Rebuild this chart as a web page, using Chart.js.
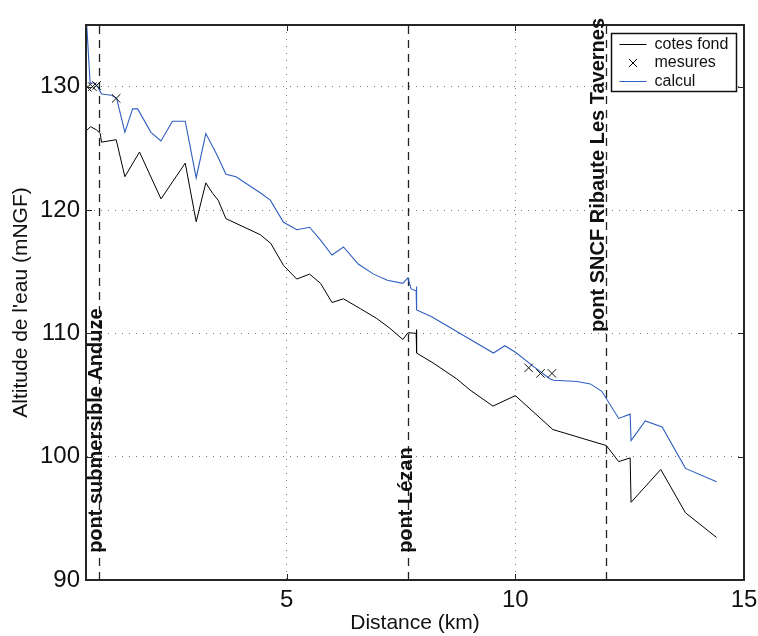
<!doctype html>
<html lang="fr">
<head>
<meta charset="utf-8">
<title>Profil en long</title>
<script src="https://cdn.jsdelivr.net/npm/chart.js"></script>
<style>
  html, body { margin: 0; padding: 0; background: #fff; }
  canvas { display: block; }
</style>
</head>
<body>
<canvas id="profil" width="758" height="636"></canvas>
<script>
// cotes fond (black line)
const fondX = [0.61, 0.61, 0.71, 0.84, 0.92, 0.95, 1.27, 1.46, 1.78, 2.25, 2.78, 3.02, 3.23, 3.38, 3.50, 3.67, 4.42, 4.65, 4.93, 5.22, 5.50, 5.74, 5.99, 6.24, 6.61, 6.97, 7.26, 7.54, 7.65, 7.83, 7.84, 7.84, 8.20, 8.72, 9.01, 9.51, 10.0, 10.82, 11.99, 12.26, 12.51, 12.53, 13.18, 13.72, 14.40];
const fondY = [130.0, 126.4, 126.75, 126.5, 126.2, 125.5, 125.7, 122.7, 124.7, 120.9, 123.8, 119.05, 122.2, 121.35, 120.8, 119.3, 118.0, 117.3, 115.5, 114.4, 114.8, 114.05, 112.5, 112.8, 112.0, 111.2, 110.4, 109.5, 110.05, 110.0, 110.3, 108.4, 107.6, 106.3, 105.4, 104.1, 104.95, 102.2, 100.9, 99.6, 99.9, 96.3, 98.96, 95.45, 93.45];

// calcul (blue line)
const calculX = [0.61, 0.70, 0.79, 0.88, 0.95, 1.17, 1.28, 1.46, 1.63, 1.74, 2.03, 2.25, 2.50, 2.78, 3.02, 3.23, 3.47, 3.67, 3.89, 4.42, 4.64, 4.93, 5.22, 5.50, 5.73, 5.99, 6.24, 6.57, 6.90, 7.20, 7.54, 7.65, 7.72, 7.83, 7.84, 7.84, 8.17, 9.52, 9.77, 10.01, 10.40, 10.76, 10.84, 11.35, 11.64, 11.89, 12.26, 12.51, 12.53, 12.84, 13.21, 13.72, 14.40];
const calculY = [136.0, 130.3, 130.3, 129.9, 129.4, 129.3, 129.05, 126.3, 128.2, 128.2, 126.3, 125.6, 127.2, 127.2, 122.6, 126.2, 124.5, 122.9, 122.7, 121.4, 120.8, 119.0, 118.4, 118.6, 117.6, 116.35, 117.0, 115.6, 114.8, 114.3, 114.05, 114.5, 113.6, 113.45, 113.8, 111.9, 111.35, 108.4, 109.0, 108.45, 107.3, 106.3, 106.2, 106.1, 105.9, 105.3, 103.1, 103.45, 101.3, 102.9, 102.4, 99.05, 97.96];

// mesures (crosses)
const mesuresX = [0.64, 0.75, 0.84, 1.27, 10.29, 10.55, 10.80];
const mesuresY = [129.95, 130.0, 130.1, 129.05, 107.2, 106.75, 106.75];

// bridges
const pontX = [0.90, 7.65, 11.99];
const pontNoms = ['pont submersible Anduze', 'pont Lézan', 'pont SNCF Ribaute Les Tavernes'];
const pontTexteX = [0.85, 7.61, 11.81];
const pontTexteY = [92.2, 92.2, 110.1];

const xTicks = [5, 10, 15];
const yTicks = [90, 100, 110, 120, 130];

const FONT = '"Liberation Sans", Arial, Helvetica, sans-serif';
const BLEU = '#2f5fbf';

const pts = (xs, ys) => xs.map((v, i) => ({ x: v, y: ys[i] }));

// dashed bridge lines, box, inward ticks, labels and legend
const habillage = {
  id: 'habillage',
  beforeDatasetsDraw(chart) {
    const { ctx, chartArea: a, scales: { x } } = chart;
    ctx.save();
    ctx.strokeStyle = '#222';
    ctx.lineWidth = 1.3;
    ctx.setLineDash([8, 6]);
    pontX.forEach(v => {
      const px = Math.round(x.getPixelForValue(v)) + 0.5;
      ctx.beginPath();
      ctx.moveTo(px, a.bottom);
      ctx.lineTo(px, a.top);
      ctx.stroke();
    });
    ctx.restore();
  },
  afterDraw(chart) {
    const { ctx, chartArea: a, scales: { x, y } } = chart;
    ctx.save();

    // box + inward ticks
    ctx.strokeStyle = '#262626';
    ctx.lineWidth = 2;
    ctx.strokeRect(a.left, a.top, a.right - a.left, a.bottom - a.top);
    ctx.lineWidth = 1;
    xTicks.forEach(v => {
      const px = Math.round(x.getPixelForValue(v)) + 0.5;
      ctx.beginPath();
      ctx.moveTo(px, a.bottom); ctx.lineTo(px, a.bottom - 6);
      ctx.moveTo(px, a.top); ctx.lineTo(px, a.top + 6);
      ctx.stroke();
    });
    yTicks.forEach(v => {
      const py = Math.round(y.getPixelForValue(v)) + 0.5;
      ctx.beginPath();
      ctx.moveTo(a.left, py); ctx.lineTo(a.left + 6, py);
      ctx.moveTo(a.right, py); ctx.lineTo(a.right - 6, py);
      ctx.stroke();
    });

    // bridge names
    ctx.fillStyle = '#111';
    ctx.font = 'bold 20px ' + FONT;
    ctx.textAlign = 'left';
    ctx.textBaseline = 'middle';
    pontNoms.forEach((nom, i) => {
      ctx.save();
      ctx.translate(x.getPixelForValue(pontTexteX[i]), y.getPixelForValue(pontTexteY[i]));
      ctx.rotate(-Math.PI / 2);
      ctx.fillText(nom, 0, 0);
      ctx.restore();
    });

    // legend
    const bw = 125, bh = 58;
    const bx = Math.round(a.right - 8 - bw) + 0.5, by = Math.round(a.top + 8) + 0.5;
    ctx.fillStyle = '#fff';
    ctx.fillRect(bx, by, bw, bh);
    ctx.strokeStyle = '#111';
    ctx.lineWidth = 1.5;
    ctx.strokeRect(bx, by, bw, bh);
    const rows = [
      { txt: 'cotes fond', type: 'line', col: '#000' },
      { txt: 'mesures', type: 'cross', col: '#000' },
      { txt: 'calcul', type: 'line', col: BLEU }
    ];
    ctx.font = '16px ' + FONT;
    ctx.textBaseline = 'middle';
    rows.forEach((r, i) => {
      const ry = by + 11 + i * 18.5;
      ctx.strokeStyle = r.col;
      ctx.lineWidth = 1;
      ctx.beginPath();
      if (r.type === 'line') {
        ctx.moveTo(bx + 8, ry); ctx.lineTo(bx + 35, ry);
      } else {
        const cx = bx + 21.5;
        ctx.moveTo(cx - 4, ry - 4); ctx.lineTo(cx + 4, ry + 4);
        ctx.moveTo(cx - 4, ry + 4); ctx.lineTo(cx + 4, ry - 4);
      }
      ctx.stroke();
      ctx.fillStyle = '#111';
      ctx.fillText(r.txt, bx + 43, ry);
    });

    ctx.restore();
  }
};

new Chart(document.getElementById('profil'), {
  type: 'line',
  data: {
    datasets: [
      {
        label: 'cotes fond',
        data: pts(fondX, fondY),
        borderColor: '#000',
        borderWidth: 1,
        pointRadius: 0,
        tension: 0
      },
      {
        label: 'mesures',
        data: pts(mesuresX, mesuresY),
        showLine: false,
        pointStyle: 'crossRot',
        pointRadius: 6,
        pointBorderWidth: 1,
        pointBorderColor: '#111',
        borderColor: '#111'
      },
      {
        label: 'calcul',
        data: pts(calculX, calculY),
        borderColor: BLEU,
        borderWidth: 1.1,
        pointRadius: 0,
        tension: 0
      }
    ]
  },
  options: {
    responsive: false,
    animation: false,
    layout: { padding: { left: 0, top: 25, right: 14, bottom: 0 } },
    plugins: {
      legend: { display: false },
      tooltip: { enabled: false }
    },
    scales: {
      x: {
        type: 'linear',
        min: 0.61,
        max: 15,
        afterBuildTicks: s => { s.ticks = xTicks.map(v => ({ value: v })); },
        afterFit: s => { s.height = 56; s.paddingLeft = 0; s.paddingRight = 0; },
        ticks: {
          color: '#111',
          font: { family: FONT, size: 24 },
          padding: 6,
          maxRotation: 0
        },
        grid: { color: '#777', lineWidth: 1, drawTicks: false },
        border: { display: true, color: '#262626', width: 2, dash: [1, 6] },
        title: {
          display: true,
          text: 'Distance (km)',
          color: '#111',
          font: { family: FONT, size: 21 },
          padding: { top: 0, bottom: 0 }
        }
      },
      y: {
        min: 90,
        max: 135,
        afterBuildTicks: s => { s.ticks = yTicks.map(v => ({ value: v })); },
        afterFit: s => { s.width = 86; s.paddingTop = 0; s.paddingBottom = 0; },
        ticks: {
          color: '#111',
          font: { family: FONT, size: 24 },
          padding: 6
        },
        grid: { color: '#777', lineWidth: 1, drawTicks: false },
        border: { display: true, color: '#262626', width: 2, dash: [1, 6] },
        title: {
          display: true,
          text: "Altitude de l'eau (mNGF)",
          color: '#111',
          font: { family: FONT, size: 21 },
          padding: { top: 9, bottom: 0 }
        }
      }
    }
  },
  plugins: [habillage]
});
</script>
</body>
</html>
